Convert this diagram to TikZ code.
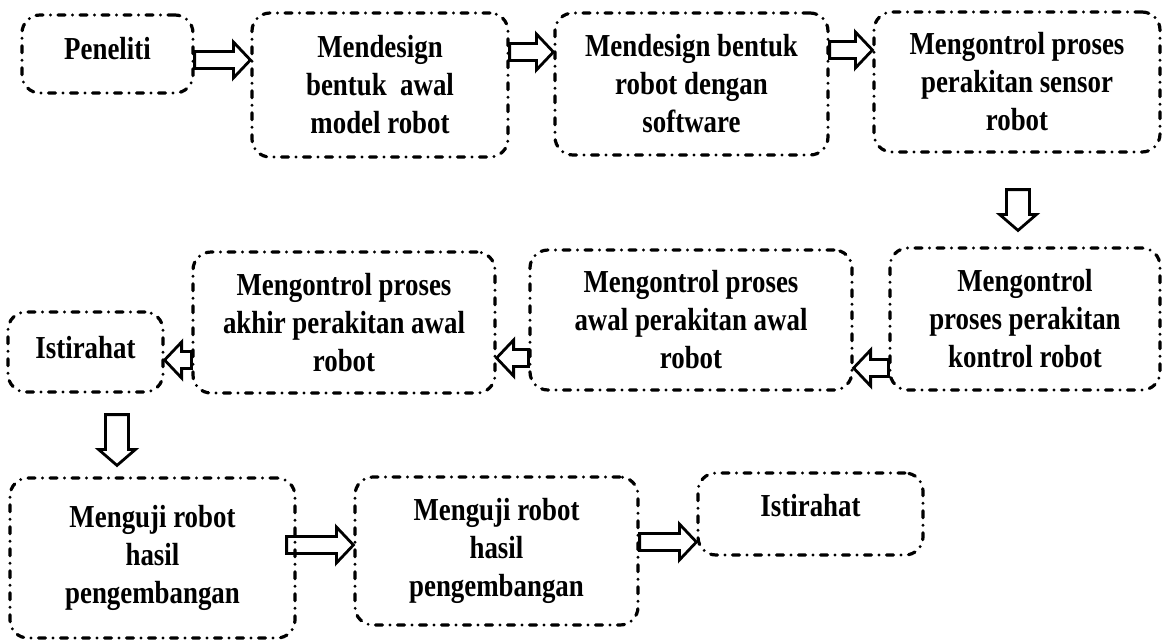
\documentclass[tikz,border=0pt]{standalone}
\usepackage{fontspec}
\setmainfont[FakeStretch=0.84]{Liberation Serif}
\usetikzlibrary{calc}
\tikzset{
  box/.style={draw, line width=3.2pt, dash pattern=on 7pt off 7.5pt on 0pt off 7.5pt,
    line cap=round, rounded corners=18pt, align=center, inner sep=0pt,
    font=\fontsize{32}{38}\selectfont\bfseries},
  barrow/.style={draw, line width=2.8pt, line join=miter},
}
% horizontal block arrow: #1 tail, #2 tip, #3 direction (1 right, -1 left)
\newcommand{\harr}[3]{%
  \draw[barrow] ($(#1)+(0,-8.5)$) -- ($(#2)+(-17*#3,-8.5)$) -- ($(#2)+(-17*#3,-18)$) -- (#2)
    -- ($(#2)+(-17*#3,18)$) -- ($(#2)+(-17*#3,8.5)$) -- ($(#1)+(0,8.5)$) -- cycle;}
% vertical block arrow pointing down: #1 tail, #2 tip
\newcommand{\varr}[2]{%
  \draw[barrow] ($(#1)+(-11.5,0)$) -- ($(#2)+(-11.5,-16)$) -- ($(#2)+(-18.5,-16)$) -- (#2)
    -- ($(#2)+(18.5,-16)$) -- ($(#2)+(11.5,-16)$) -- ($(#1)+(11.5,0)$) -- cycle;}
\begin{document}
\begin{tikzpicture}[x=1pt,y=-1pt]
\useasboundingbox (0,0) rectangle (1163,641);
% boxes
\node[box, minimum width=171, minimum height=78, text depth=12pt] (b1) at (107.5,54) {Peneliti};
\node[box, minimum width=256, minimum height=144] (b2) at (380,85) {Mendesign\\bentuk~ awal\\model robot};
\node[box, minimum width=273, minimum height=142] (b3) at (691.5,84) {Mendesign bentuk\\robot dengan\\software};
\node[box, minimum width=286, minimum height=140] (b4) at (1017,82) {Mengontrol proses\\perakitan sensor\\robot};
\node[box, minimum width=270, minimum height=142] (b5) at (1025,319) {Mengontrol\\proses perakitan\\kontrol robot};
\node[box, minimum width=322, minimum height=140] (b6) at (691,320) {Mengontrol proses\\awal perakitan awal\\robot};
\node[box, minimum width=302, minimum height=141] (b7) at (344,322.5) {Mengontrol proses\\akhir perakitan awal\\robot};
\node[box, minimum width=155, minimum height=80, text depth=10pt] (b8) at (85.5,352) {Istirahat};
\node[box, minimum width=285, minimum height=160] (b9) at (152.5,558) {Menguji robot\\hasil\\pengembangan};
\node[box, minimum width=283, minimum height=148] (b10) at (496.5,551) {Menguji robot\\hasil\\pengembangan};
\node[box, minimum width=225, minimum height=82, text depth=18pt] (b11) at (810.5,514) {Istirahat};
% arrow end points
\coordinate (a1s) at (b1.east |- 0,60);   \coordinate (a1e) at (b2.west |- 0,60);
\coordinate (a2s) at (b2.east |- 0,52);   \coordinate (a2e) at (b3.west |- 0,52);
\coordinate (a3s) at (b3.east |- 0,50);   \coordinate (a3e) at (b4.west |- 0,50);
\coordinate (d1s) at ($(b4.south)+(1,36)$);
\coordinate (d1e) at ($(d1s |- b5.north)+(0,-16)$);
\coordinate (a4s) at (b5.west |- 0,368);  \coordinate (a4e) at (b6.east |- 0,368);
\coordinate (a5s) at (b6.west |- 0,358);  \coordinate (a5e) at (b7.east |- 0,358);
\coordinate (a6s) at (b7.west |- 0,360);  \coordinate (a6e) at (b8.east |- 0,360);
\coordinate (d2s) at ($(b8.south)+(31.5,21)$);
\coordinate (d2e) at ($(d2s |- b9.north)+(0,-11)$);
\coordinate (a7s) at ($(b9.east |- 0,545)+(-10,0)$); \coordinate (a7e) at (b10.west |- 0,545);
\coordinate (a8s) at (b10.east |- 0,542); \coordinate (a8e) at (b11.west |- 0,542);
% arrows
\harr{a1s}{a1e}{1}
\harr{a2s}{a2e}{1}
\harr{a3s}{a3e}{1}
\varr{d1s}{d1e}
\harr{a4s}{a4e}{-1}
\harr{a5s}{a5e}{-1}
\harr{a6s}{a6e}{-1}
\varr{d2s}{d2e}
\harr{a7s}{a7e}{1}
\harr{a8s}{a8e}{1}
\end{tikzpicture}
\end{document}
